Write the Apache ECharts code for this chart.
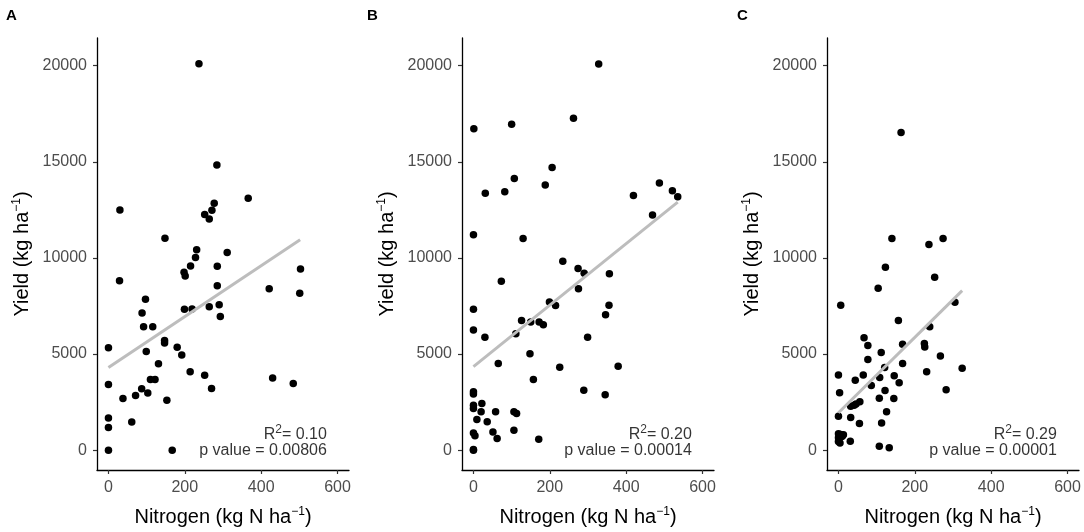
<!DOCTYPE html>
<html>
<head>
<meta charset="utf-8">
<script src="https://cdn.jsdelivr.net/npm/echarts@6/dist/echarts.min.js"></script>
<style>
    html, body { margin: 0; padding: 0; background: #fff; }
    #main { width: 1084px; height: 532px; }
</style>
</head>
<body>
<div id="main"></div>
<script>
    // 散点数据 [N, yield]
    var panelA = [
        [237, 20100], [284, 14840], [30, 12500], [366, 13100], [277, 12850], [271, 12480], [252, 12260],
        [264, 12030], [148, 11030], [231, 10420], [228, 10020], [311, 10280], [215, 9580], [285, 9570],
        [198, 9250], [201, 9060], [503, 9430], [29, 8820], [285, 8560], [421, 8400], [501, 8160],
        [97, 7850], [88, 7140], [199, 7330], [219, 7340], [264, 7460], [290, 7570], [293, 6960],
        [92, 6420], [116, 6420], [147, 5700], [147, 5580], [0, 5330], [99, 5140], [180, 5360],
        [192, 4950], [131, 4500], [214, 4080], [252, 3900], [270, 3210], [430, 3750], [484, 3470],
        [0, 3420], [38, 2690], [71, 2850], [87, 3190], [103, 2970], [110, 3680], [122, 3680],
        [153, 2600], [61, 1470], [0, 1680], [0, 1180], [0, 0], [167, 0]
    ];
    var panelB = [
        [1, 16720], [100, 16960], [262, 17270], [328, 20090], [206, 14700], [107, 14130], [188, 13790],
        [31, 13370], [82, 13440], [419, 13250], [487, 13900], [521, 13490], [535, 13180], [469, 12240],
        [0, 11210], [130, 11010], [234, 9830], [274, 9450], [290, 9200], [356, 9180], [73, 8790],
        [275, 8400], [199, 7710], [215, 7520], [355, 7540], [346, 7050], [0, 7330], [0, 6250],
        [126, 6740], [150, 6670], [172, 6670], [183, 6530], [111, 6060], [30, 5880], [299, 5880],
        [148, 5020], [65, 4510], [226, 4320], [379, 4370], [157, 3680], [289, 3120], [345, 2880],
        [0, 3040], [0, 2920], [0, 2340], [0, 2170], [22, 2430], [20, 2000], [9, 1600], [36, 1480],
        [58, 2000], [0, 900], [4, 750], [51, 950], [62, 610], [106, 2000], [113, 1910], [106, 1040],
        [171, 570], [0, 40], [0, 0]
    ];
    var panelC = [
        [164, 16530], [140, 11010], [237, 10700], [274, 11010], [123, 9520], [252, 9000], [104, 8420],
        [6, 7540], [305, 7690], [157, 6740], [239, 6420], [67, 5850], [77, 5440], [168, 5510],
        [225, 5550], [226, 5370], [112, 5080], [77, 4720], [168, 4510], [267, 4900], [324, 4260],
        [121, 4300], [231, 4080], [0, 3910], [65, 3910], [44, 3640], [108, 3780], [146, 3870],
        [159, 3510], [86, 3360], [122, 3100], [3, 2990], [282, 3140], [107, 2700], [145, 2690],
        [56, 2520], [32, 2280], [41, 2340], [46, 2400], [126, 2000], [0, 1770], [32, 1700],
        [55, 1390], [113, 1420], [0, 850], [6, 820], [13, 800], [0, 650], [6, 680], [0, 450],
        [4, 380], [10, 720], [31, 470], [107, 200], [133, 130]
    ];

    // 回归线端点
    var fitA = [[0, 4300], [502, 10950]];
    var fitB = [[0, 4350], [535, 12900]];
    var fitC = [[0, 1950], [324, 8300]];

    var r2Labels = ['0.10', '0.20', '0.29'];
    var pLabels = ['0.00806', '0.00014', '0.00001'];
    var panelLetters = ['A', 'B', 'C'];

    var xTicks = [0, 200, 400, 600];
    var yTicks = [0, 5000, 10000, 15000, 20000];

    var panels = [panelA, panelB, panelC];
    var fits = [fitA, fitB, fitC];
    var gridLefts = [97, 462, 827];
    var letterLefts = [6, 367, 737];

    var font = '"Liberation Sans", Arial, sans-serif';
    var supRich = {
        sup: { fontSize: 12, verticalAlign: 'top', padding: [0, 0, 10, 0], fontFamily: font, color: '#000' }
    };

    var myChart = echarts.init(document.getElementById('main'));

    var grids = [], xAxes = [], yAxes = [], series = [], graphics = [];

    for (var i = 0; i < 3; i++) {
        grids.push({ left: gridLefts[i], top: 38, width: 252, height: 432 });

        xAxes.push({
            gridIndex: i, type: 'value', min: -30, max: 630,
            name: 'Nitrogen (kg N ha{sup|\u22121})',
            nameLocation: 'middle', nameGap: 36,
            nameTextStyle: { fontSize: 20, color: '#000', fontFamily: font, rich: supRich },
            splitLine: { show: false },
            axisLine: { onZero: false, lineStyle: { color: '#000', width: 1.3 } },
            axisTick: { customValues: xTicks, length: 4, lineStyle: { color: '#333', width: 1.2 } },
            axisLabel: {
                customValues: xTicks, fontSize: 16, color: '#4d4d4d', fontFamily: font, margin: 10,
                formatter: function (v) { return String(v); }
            }
        });

        yAxes.push({
            gridIndex: i, type: 'value', min: -1030, max: 21440,
            name: 'Yield (kg ha{sup|\u22121})',
            nameLocation: 'middle', nameRotate: 90, nameGap: 64,
            nameTextStyle: { fontSize: 20, color: '#000', fontFamily: font, rich: supRich },
            splitLine: { show: false },
            axisLine: { show: true, onZero: false, lineStyle: { color: '#000', width: 1.3 } },
            axisTick: { show: true, customValues: yTicks, length: 4, lineStyle: { color: '#333', width: 1.2 } },
            axisLabel: {
                customValues: yTicks, fontSize: 16, color: '#4d4d4d', fontFamily: font, margin: 10,
                formatter: function (v) { return String(v); }
            }
        });

        series.push({
            type: 'scatter', xAxisIndex: i, yAxisIndex: i,
            data: panels[i], symbolSize: 7.5,
            itemStyle: { color: '#000', opacity: 1 },
            z: 2
        });

        series.push({
            type: 'line', xAxisIndex: i, yAxisIndex: i,
            data: fits[i], symbol: 'none',
            lineStyle: { color: '#bdbdbd', width: 3 },
            z: 3
        });

        // R2 和 p value 标注
        series.push({
            type: 'scatter', xAxisIndex: i, yAxisIndex: i,
            symbolSize: 0, silent: true, z: 4,
            label: {
                show: true, position: 'left', distance: 0,
                fontSize: 16, color: '#000', fontFamily: font, rich: supRich
            },
            data: [
                { value: [572, 830], label: { formatter: 'R{sup|2}= ' + r2Labels[i] } },
                { value: [572, 0], label: { formatter: 'p value = ' + pLabels[i] } }
            ]
        });

        graphics.push({
            type: 'text', left: letterLefts[i], top: 8,
            style: { text: panelLetters[i], font: 'bold 15px ' + font, fill: '#000' }
        });
    }

    var option = {
        animation: false,
        backgroundColor: '#fff',
        grid: grids,
        xAxis: xAxes,
        yAxis: yAxes,
        series: series,
        graphic: graphics
    };

    myChart.setOption(option);
</script>
</body>
</html>
